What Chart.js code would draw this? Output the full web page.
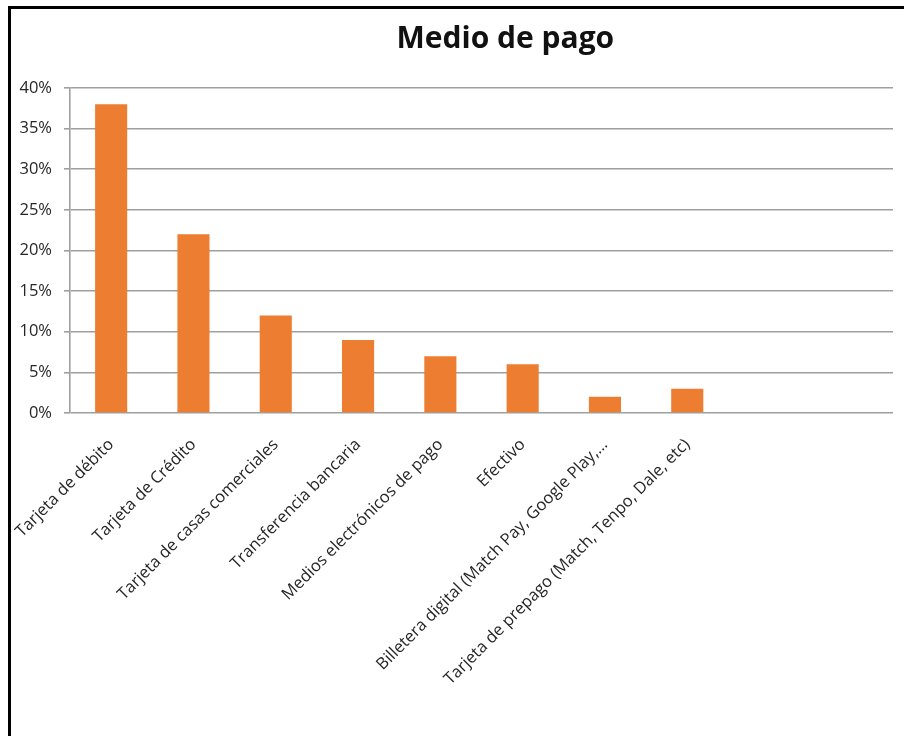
<!DOCTYPE html>
<html lang="es">
<head>
<meta charset="utf-8">
<title>Medio de pago</title>
<script src="https://cdn.jsdelivr.net/npm/chart.js@4.4.1/dist/chart.umd.min.js"></script>
<style>
  html, body { margin: 0; padding: 0; background: #fff; overflow: hidden; }
  #wrap { position: relative; width: 904px; height: 736px; }
  #marco { position: absolute; left: 8px; top: 6px; width: 1000px; height: 1000px; border: 3px solid #000; box-sizing: border-box; pointer-events: none; }
  canvas { position: absolute; left: 0; top: 0; }
</style>
</head>
<body>
<div id="wrap">
  <canvas id="myChart" width="904" height="736"></canvas>
  <div id="marco"></div>
</div>
<script>
// grafico medio de pago

const titulo = "Medio de pago";

const categorias = [
  "Tarjeta de débito",
  "Tarjeta de Crédito",
  "Tarjeta de casas comerciales",
  "Transferencia bancaria",
  "Medios electrónicos de pago",
  "Efectivo",
  "Billetera digital (Match Pay, Google Play,…",
  "Tarjeta de prepago (Match, Tenpo, Dale, etc)",
  "",
  ""
];

// porcentajes
const porcentajes = [38, 22, 12, 9, 7, 6, 2, 3, null, null];

// ticks del eje y
const ticksY = [0, 5, 10, 15, 20, 25, 30, 35, 40];

Chart.defaults.font.family = "'Open Sans', sans-serif";

const tituloPlugin = {
  id: "tituloPlugin",
  afterDraw(chart) {
    const ctx = chart.ctx;
    const area = chart.chartArea;
    ctx.save();
    ctx.font = "bold 30px 'Open Sans', sans-serif";
    ctx.fillStyle = "#111111";
    ctx.textAlign = "center";
    ctx.textBaseline = "alphabetic";
    ctx.fillText(titulo, area.left + area.width * 0.529, 48);
    ctx.restore();
  }
};

var ctx = document.getElementById("myChart").getContext("2d");
var myChart = new Chart(ctx, {
  type: "bar",
  data: {
    labels: categorias,
    datasets: [
      {
        data: porcentajes,
        backgroundColor: "#ed7d31",
        borderWidth: 0,
        categoryPercentage: 1,
        barPercentage: 0.39,
      },
    ],
  },
  options: {
    responsive: false,
    animation: false,
    layout: {
      padding: { top: 88, right: 11, left: 0, bottom: 0 },
    },
    plugins: {
      legend: { display: false },
      tooltip: { enabled: false },
      title: { display: false },
    },
    scales: {
      x: {
        grid: { display: false, drawTicks: false },
        border: { display: false },
        ticks: {
          autoSkip: false,
          minRotation: 45,
          maxRotation: 45,
          padding: 22,
          color: "#262626",
          font: { size: 16.5 },
        },
        afterFit: (scale) => {
          scale.height = 323;
          // labels rotated fit inside the y axis column
          scale.paddingLeft = 0;
          scale.paddingRight = 0;
        },
      },
      y: {
        min: 0,
        max: 40,
        grid: {
          color: "#9f9f9f",
          lineWidth: 1.6,
          tickLength: 6,
        },
        border: { display: true, color: "#9f9f9f", width: 1.6 },
        ticks: {
          padding: 12,
          color: "#262626",
          font: { size: 16.5 },
          callback: (v) => v + "%",
        },
        afterBuildTicks: (scale) => {
          scale.ticks = ticksY.map((v) => ({ value: v }));
        },
        afterFit: (scale) => {
          scale.width = 70;
        },
      },
    },
  },
  plugins: [tituloPlugin],
});
</script>
</body>
</html>
